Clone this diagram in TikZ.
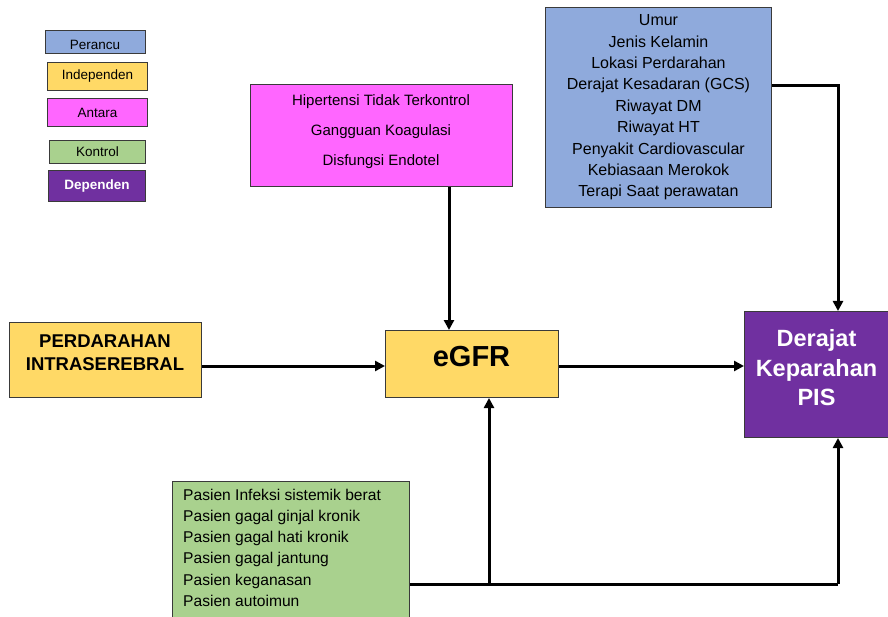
\documentclass[tikz,border=0pt]{standalone}
\usepackage{fontspec}
\setmainfont{Liberation Sans}
\usetikzlibrary{arrows.meta,calc}
\definecolor{cperancu}{HTML}{8FAADC}
\definecolor{cindep}{HTML}{FFD966}
\definecolor{cantara}{HTML}{FF66FF}
\definecolor{ckontrol}{HTML}{A9D18E}
\definecolor{cdepend}{HTML}{7030A0}
\definecolor{cedge}{HTML}{3A3A3A}
\tikzset{
  box/.style={draw=cedge, line width=1pt, inner sep=0pt, anchor=north west},
  legend/.style={box, font=\fontsize{13.5}{15}\selectfont},
  conn/.style={line width=3pt, -{Triangle[length=10pt,width=10pt]}},
  plain/.style={line width=3pt},
}
\begin{document}
\begin{tikzpicture}[x=1pt,y=-1pt]
\useasboundingbox (0,0) rectangle (888,617);
% legend
\node[legend, fill=cperancu, minimum width=100pt, minimum height=23pt] (lp) at (45,30) {};
\node[font=\fontsize{13.5}{15}\selectfont, anchor=base] at (95,50) {Perancu};
\node[legend, fill=cindep, minimum width=100pt, minimum height=28pt] (li) at (47,62) {Independen};
\node[legend, fill=cantara, minimum width=100pt, minimum height=28pt] (la) at (47,98) {Antara};
\node[legend, fill=ckontrol, minimum width=96pt, minimum height=23pt] (lk) at (49,140) {Kontrol};
\node[legend, fill=cdepend, text=white, minimum width=97pt, minimum height=31pt, font=\fontsize{13.5}{15}\selectfont\bfseries] (ld) at (48,170) {Dependen};
% intermediate variables
\node[box, fill=cantara, minimum width=262pt, minimum height=102pt] (antara) at (250,84) {};
\node[align=center, font=\fontsize{15}{30}\selectfont, anchor=north] at (381,91)
  {Hipertensi Tidak Terkontrol\\Gangguan Koagulasi\\Disfungsi Endotel};
% confounders
\node[box, fill=cperancu, minimum width=226pt, minimum height=200pt, align=center,
  font=\fontsize{16}{21.4}\selectfont] (perancu) at (545,7)
  {Umur\\Jenis Kelamin\\Lokasi Perdarahan\\Derajat Kesadaran (GCS)\\Riwayat DM\\Riwayat HT\\Penyakit Cardiovascular\\Kebiasaan Merokok\\Terapi Saat perawatan};
% independent
\node[box, fill=cindep, minimum width=192pt, minimum height=75pt] (pis) at (9,322) {};
\node[align=center, font=\fontsize{18.5}{23}\selectfont\bfseries] at (105,352.5)
  {PERDARAHAN\\INTRASEREBRAL};
\node[box, fill=cindep, minimum width=173pt, minimum height=67pt] (egfr) at (385,330) {};
\node[font=\fontsize{29}{30}\selectfont\bfseries] at (471.5,357) {eGFR};
% dependent
\node[box, fill=cdepend, minimum width=145pt, minimum height=126pt] (dep) at (744,311) {};
\node[text=white, align=center, font=\fontsize{23.5}{29.5}\selectfont\bfseries] at (816.5,368)
  {Derajat\\Keparahan\\PIS};
% controls
\node[box, fill=ckontrol, minimum width=237pt, minimum height=140pt] (kontrol) at (172,481) {};
\node[anchor=north west, align=left, inner sep=0pt,
  font=\fontsize{15.6}{21.3}\selectfont] at (183,488.5)
  {Pasien Infeksi sistemik berat\\Pasien gagal ginjal kronik\\Pasien gagal hati kronik\\Pasien gagal jantung\\Pasien keganasan\\Pasien autoimun};
% connectors
\coordinate (c1) at (838,86);
\coordinate (c2) at (838,584);
\coordinate (c3) at (489,584);
\draw[conn] (antara.south -| 449,0) -- (egfr.north -| 449,0);
\draw[conn] (pis.east |- 0,366) -- (egfr.west |- 0,366);
\draw[conn] (egfr.east |- 0,366) -- (dep.west |- 0,366);
\draw[conn] (perancu.east |- c1) -- (c1) -- (dep.north -| c1);
\draw[plain] (kontrol.east |- c2) -- (c2);
\draw[conn] (c2) -- (dep.south -| c2);
\draw[conn] (c3) -- (egfr.south -| c3);
\end{tikzpicture}
\end{document}
